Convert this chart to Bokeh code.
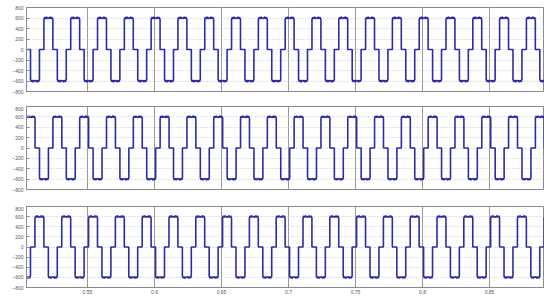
from bokeh.plotting import figure
from bokeh.layouts import column
from bokeh.models import Range1d, FixedTicker, NumeralTickFormatter
from bokeh.embed import file_html
from bokeh.resources import INLINE
import numpy as np

# ---- data ----
x_ticks = [0.55, 0.6, 0.65, 0.7, 0.75, 0.8, 0.85]
y_ticks = [-800, -600, -400, -200, 0, 200, 400, 600, 800]
x_start, x_end = 0.5045, 0.891
y_start, y_end = -800, 800
fundamental_hz = 50.0

# one cycle of the six-step line voltage, with the ripple on the plateaus
cycle_phase_deg = [0, 0, 12, 24, 36, 48, 60, 72, 84, 96, 108, 120, 120, 180,
                   180, 192, 204, 216, 228, 240, 252, 264, 276, 288, 300, 300, 360]
cycle_volts = [0, 575, 615, 585, 620, 590, 600, 588, 622, 586, 614, 575, 0, 0,
               -575, -615, -585, -620, -590, -600, -588, -622, -586, -614, -575, 0, 0]

# time of a positive rising edge in each panel (phases a-b, b-c, c-a)
panel_edge_time = [0.5175, 0.5242, 0.5108]

line_color = "#2b2ba8"


def build_wave(edge_time):
    period = 1.0 / fundamental_hz
    ph = np.array(cycle_phase_deg, dtype=float) / 360.0 * period
    v = np.array(cycle_volts, dtype=float)
    k0 = int(np.floor((x_start - edge_time) / period)) - 1
    k1 = int(np.ceil((x_end - edge_time) / period)) + 1
    ts, vs = [], []
    for k in range(k0, k1):
        ts.extend(edge_time + k * period + ph)
        vs.extend(v)
    return ts, vs


x_range = Range1d(x_start, x_end)
heights = [106, 100, 90]
tops = [7, 0, 0]
bottoms = [15, 17, 9]
figs = []
for i, edge in enumerate(panel_edge_time):
    p = figure(width=544, height=heights[i], x_range=x_range, title=None,
               y_range=Range1d(y_start, y_end), output_backend="svg",
               toolbar_location=None, min_border_left=26, min_border_right=0,
               min_border_top=tops[i], min_border_bottom=bottoms[i])
    p.background_fill_color = "white"
    p.border_fill_color = "white"
    p.outline_line_color = "#8a8a8a"
    p.outline_line_width = 1

    p.yaxis.ticker = FixedTicker(ticks=y_ticks)
    p.yaxis.major_label_text_font_size = "5px"
    p.yaxis.major_label_text_color = "#555555"
    p.yaxis.major_label_text_font = "Liberation Sans"
    p.yaxis.major_tick_out = 0
    p.yaxis.major_tick_in = 3
    p.yaxis.minor_tick_out = 0
    p.yaxis.minor_tick_in = 0
    p.yaxis.minor_tick_line_color = None
    p.yaxis.major_tick_line_color = "#8a8a8a"
    p.yaxis.axis_line_color = "#8a8a8a"
    p.yaxis.major_label_standoff = 3

    p.xaxis.ticker = FixedTicker(ticks=x_ticks)
    p.xaxis.formatter = NumeralTickFormatter(format="0.[00]")
    p.xaxis.major_tick_out = 0
    p.xaxis.major_tick_in = 3
    p.xaxis.minor_tick_out = 0
    p.xaxis.minor_tick_in = 0
    p.xaxis.minor_tick_line_color = None
    p.xaxis.major_tick_line_color = "#8a8a8a"
    p.xaxis.axis_line_color = "#8a8a8a"
    p.xaxis.major_label_text_font_size = "5px"
    p.xaxis.major_label_text_color = "#555555"
    p.xaxis.major_label_text_font = "Liberation Sans"
    p.xaxis.major_label_standoff = 2
    if i < 2:
        p.xaxis.visible = False

    p.xgrid.ticker = FixedTicker(ticks=x_ticks)
    p.xgrid.grid_line_color = "#9a9a9a"
    p.xgrid.grid_line_width = 1
    p.ygrid.ticker = FixedTicker(ticks=y_ticks)
    p.ygrid.grid_line_color = "#c4c4c4"
    p.ygrid.grid_line_dash = "1 2"

    t, v = build_wave(edge)
    p.line(t, v, line_color=line_color, line_width=1.6)
    figs.append(p)

layout = column(*figs, spacing=0)
open("out.html", "w").write(file_html(layout, INLINE))
